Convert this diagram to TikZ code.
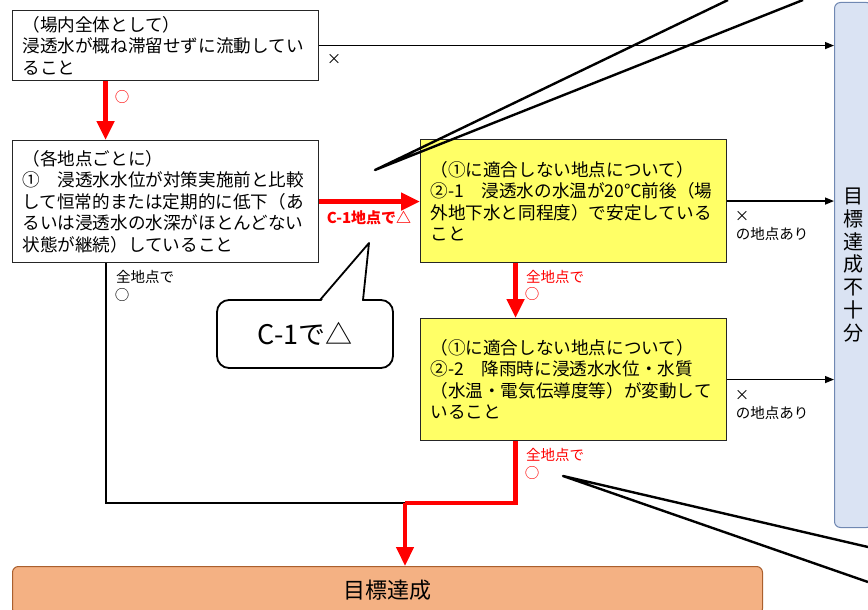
\documentclass[tikz,border=0pt]{standalone}
\usepackage{fontspec}
\setmainfont{Noto Sans CJK JP}
\usetikzlibrary{arrows.meta,calc}
\definecolor{condyellow}{RGB}{255,255,102}
\definecolor{goalorange}{RGB}{244,177,131}
\definecolor{goalrim}{RGB}{170,95,45}
\definecolor{failblue}{RGB}{218,227,243}
\definecolor{failrim}{RGB}{112,136,178}
\newcommand{\condfont}{\fontsize{17.6pt}{21.5pt}\selectfont}
\newcommand{\labfont}{\fontsize{14.5pt}{16pt}\selectfont}
\tikzset{
    condbox/.style={draw=black!85, line width=1.1pt, anchor=north west, align=left,
        text width=286pt, inner xsep=10pt, inner ysep=0pt, font=\condfont},
    redline/.style={red, line width=4.5pt},
    redarrow/.style={red, line width=4.5pt, -{Triangle[width=17pt,length=19pt]}},
    blackarrow/.style={black, line width=1.4pt, -{Triangle[width=7pt,length=9pt]}},
    blacklab/.style={inner sep=0pt, font=\labfont},
    redlab/.style={inner sep=0pt, text=red, font=\labfont},
    wedge/.style={line width=2.4pt, line join=round}
}

\begin{document}
\begin{tikzpicture}[x=1pt, y=-1pt]

        \clip (0,0) rectangle (868,610);
        \useasboundingbox (0,0) rectangle (868,610);

        \node[condbox, minimum height=70pt] (whole) at (12,10)
            {（場内全体として）\\浸透水が概ね滞留せずに流動してい\\ること};
        \node[condbox, minimum height=122pt] (each) at (12,140)
            {（各地点ごとに）\\①　浸透水水位が対策実施前と比較\\して恒常的または定期的に低下（あ\\るいは浸透水の水深がほとんどない\\状態が継続）していること};
        \node[condbox, fill=condyellow, minimum height=123pt] (temp) at (420,139)
            {（①に適合しない地点について）\\②-1　浸透水の水温が20℃前後（場\\外地下水と同程度）で安定している\\こと};
        \node[condbox, fill=condyellow, minimum height=122pt] (rain) at (420,318)
            {（①に適合しない地点について）\\②-2　降雨時に浸透水水位・水質\\（水温・電気伝導度等）が変動して\\いること};

        \node[draw=failrim, fill=failblue, line width=1pt, rounded corners=6pt, anchor=north west,
            minimum width=38pt, minimum height=525pt, align=center,
            font=\fontsize{20pt}{22.8pt}\selectfont] (notyet) at (834,2)
            {目\\標\\達\\成\\不\\十\\分};
        \node[draw=goalrim, fill=goalorange, line width=1pt, rounded corners=6pt, anchor=north west,
            minimum width=750pt, minimum height=48pt,
            font=\fontsize{22pt}{24pt}\selectfont] (goal) at (12,566) {目標達成};

        \coordinate (wholeout) at ([xshift=-60pt]whole.south);
        \coordinate (eachout) at ([xshift=-60pt]each.south);
        \coordinate (tempout) at ([xshift=-58pt]temp.south);
        \coordinate (rainout) at ([xshift=-58pt]rain.south);
        \coordinate (join) at (405,503);

        \draw[blackarrow] (whole.east) -- (whole.east -| notyet.west);
        \draw[blackarrow] (temp.east) -- (temp.east -| notyet.west);
        \draw[blackarrow] (rain.east) -- (rain.east -| notyet.west);

        \draw[line width=2pt] (eachout) |- (join);
        \draw[redarrow] (wholeout) -- (wholeout |- each.north);
        \draw[redarrow] (each.east) -- (each.east -| temp.west);
        \draw[redarrow] (tempout) -- (tempout |- rain.north);
        \draw[redline] (rainout) |- (join);
        \draw[redarrow] (join) -- (join |- goal.north);

        \node[blacklab] (crossa) at (334,59) {×};
        \node[redlab] (oka) at (122,97) {○};
        \node[redlab, font=\fontsize{15pt}{16pt}\selectfont\bfseries] (c1lab) at (369,218) {C-1地点で△};
        \node[blacklab] (crossb) at (742,216) {×};
        \node[blacklab] (somea) at (772,234) {の地点あり};
        \node[blacklab] (crossc) at (742,395) {×};
        \node[blacklab] (someb) at (772,413) {の地点あり};
        \node[redlab] (alla) at (555,277) {全地点で};
        \node[redlab] (okb) at (532,294) {○};
        \node[redlab] (allb) at (555,455) {全地点で};
        \node[redlab] (okc) at (532,473) {○};
        \node[blacklab] (allc) at (145,277) {全地点で};
        \node[blacklab] (okd) at (122,295) {○};

        \node[draw, fill=white, line width=1.8pt, rounded corners=12pt,
            minimum width=176pt, minimum height=68pt,
            font=\fontsize{27pt}{29pt}\selectfont] (note) at (305,334) {C-1で△};
        \coordinate (notetip) at (369,243);
        \fill[white] (321,301.5) -- (notetip) -- (362,301.5) -- cycle;
        \draw[line width=1.8pt, line join=round] (320,300) -- (notetip) -- (363,300);

        \coordinate (tipa) at (375,170);
        \draw[wedge] (728,0) -- (tipa) -- (803,0);
        \coordinate (tipb) at (563,476);
        \draw[wedge] (868,547) -- (tipb) -- (868,582);

\end{tikzpicture}
\end{document}
